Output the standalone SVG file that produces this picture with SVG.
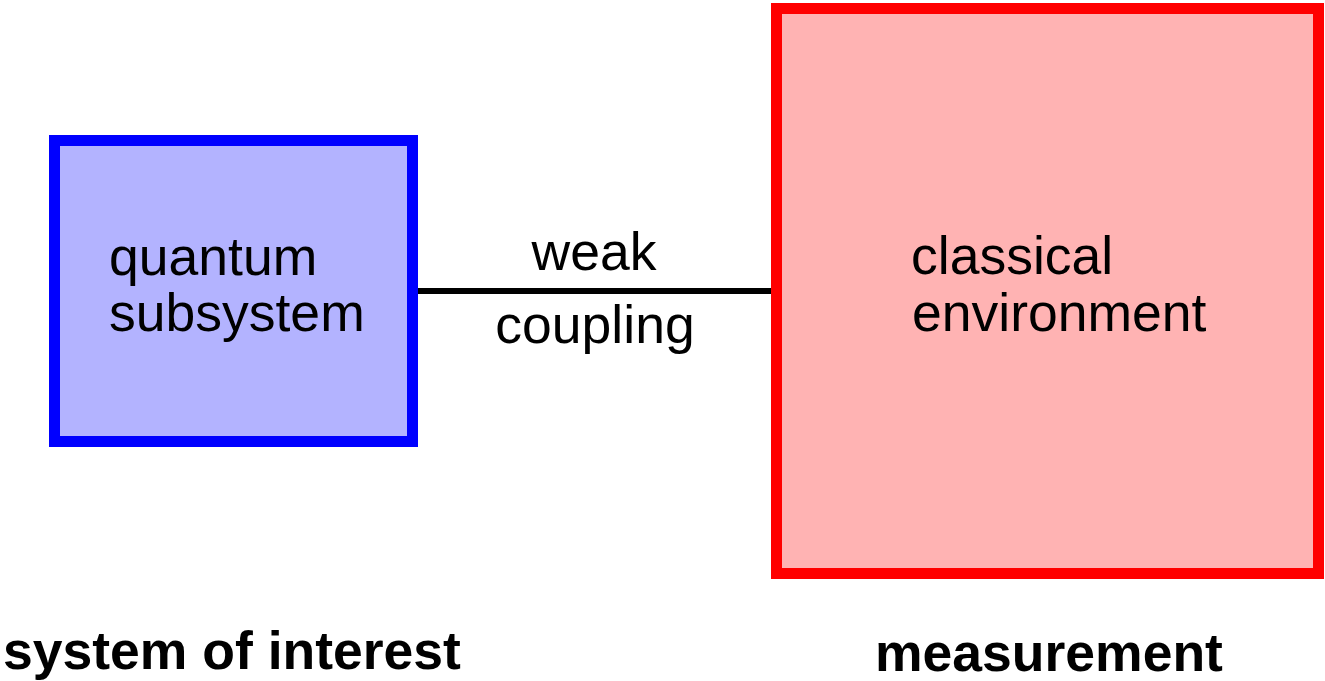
<svg xmlns="http://www.w3.org/2000/svg" width="1325" height="681" viewBox="0 0 1325 681">
  <style>
    .label { font-family: "Liberation Sans", Arial, sans-serif; font-size: 53.5px; fill: #000; }
    .caption { font-family: "Liberation Sans", Arial, sans-serif; font-size: 53.5px; font-weight: bold; fill: #000; }
    .mid { text-anchor: middle; }
  </style>
  <rect width="1325" height="681" fill="#ffffff"/>

  <g id="connectors">
    <line x1="418" y1="291" x2="771" y2="291" stroke="#000" stroke-width="6"/>
    <text class="label mid" x="594" y="270">weak</text>
    <text class="label mid" x="595" y="343">coupling</text>
  </g>

  <g id="quantum-subsystem">
    <rect x="54.5" y="140.5" width="358" height="301" fill="#b3b3ff" stroke="#0000ff" stroke-width="11"/>
    <text class="label" x="109" y="275">quantum</text>
    <text class="label" x="109" y="331">subsystem</text>
  </g>

  <g id="classical-environment">
    <rect x="776.5" y="8.5" width="542" height="565" fill="#ffb3b3" stroke="#ff0000" stroke-width="11"/>
    <text class="label" x="911" y="274">classical</text>
    <text class="label" x="912" y="331">environment</text>
  </g>

  <g id="captions">
    <text class="caption" x="3" y="669">system of interest</text>
    <text class="caption" x="875" y="671">measurement</text>
  </g>
</svg>
